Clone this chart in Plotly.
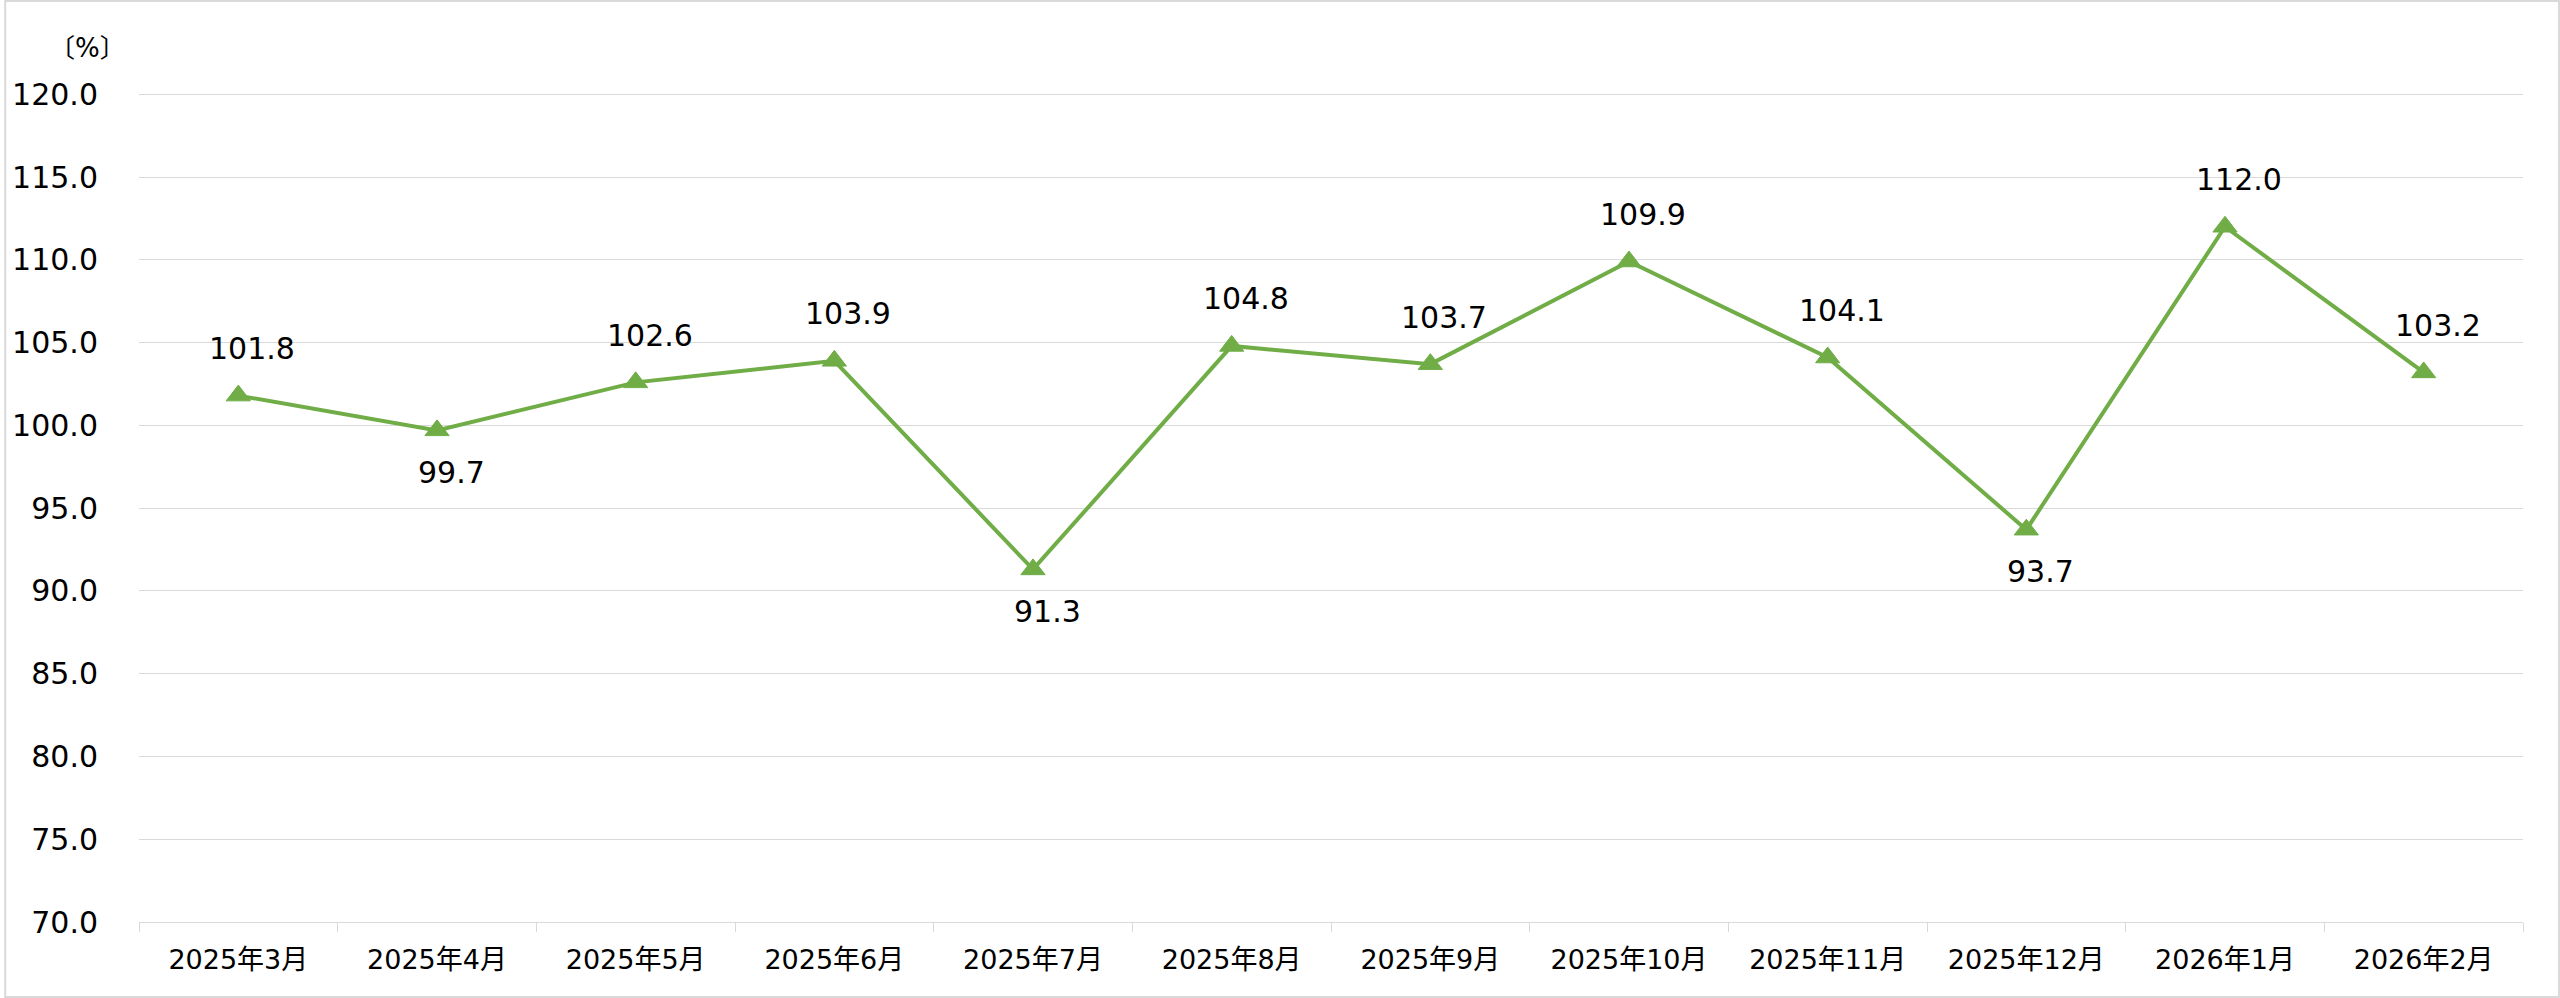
import plotly.graph_objects as go

categories = ["2025年3月", "2025年4月", "2025年5月", "2025年6月", "2025年7月", "2025年8月",
              "2025年9月", "2025年10月", "2025年11月", "2025年12月", "2026年1月", "2026年2月"]
values = [101.8, 99.7, 102.6, 103.9, 91.3, 104.8, 103.7, 109.9, 104.1, 93.7, 112.0, 103.2]
label_below = [False, True, False, False, True, False, False, False, False, True, False, False]
y_ticks = [70, 75, 80, 85, 90, 95, 100, 105, 110, 115, 120]
unit_label = "〔%〕"

FONT = "DejaVu Sans, Verdana, Noto Sans CJK JP, sans-serif"
GREEN = "#70AD47"
GRID = "#D9D9D9"

W, H = 2560, 998
L, R, T, B = 135, 37, 93, 76
PW, PH = W - L - R, H - T - B

fig = go.Figure()
fig.add_trace(go.Scatter(
    x=categories, y=values, mode="lines+markers",
    line=dict(color=GREEN, width=4),
    marker=dict(symbol="triangle-up", size=21, color=GREEN, line=dict(color=GREEN, width=1)),
    hoverinfo="x+y", showlegend=False,
))

annotations = []
for c, v, below in zip(categories, values, label_below):
    annotations.append(dict(
        x=c, y=v, xref="x", yref="y", text=f"{v:.1f}", showarrow=False,
        xshift=14, yshift=-42 if below else 47,
        font=dict(family=FONT, size=30, color="#000000"),
    ))
annotations.append(dict(
    x=(83 - L) / PW, y=(H - B - 48) / PH, xref="paper", yref="paper",
    xanchor="center", yanchor="middle",
    text=unit_label, showarrow=False,
    font=dict(family=FONT, size=26, color="#000000"),
))

fig.update_layout(
    width=W, height=H,
    margin=dict(l=L, r=R, t=T, b=B, pad=0),
    paper_bgcolor="white", plot_bgcolor="white",
    font=dict(family=FONT, color="#000000"),
    annotations=annotations,
    shapes=[dict(
        type="rect", xref="paper", yref="paper",
        x0=(1 - L) / PW, x1=(W - 1 - L) / PW,
        y0=(H - B - (H - 1)) / PH, y1=(H - B - 1) / PH,
        line=dict(color=GRID, width=2), fillcolor="rgba(0,0,0,0)", layer="below",
    )],
    xaxis=dict(
        type="category", tickson="boundaries", ticks="outside", ticklen=9,
        tickcolor=GRID, tickwidth=1, showline=True, linecolor=GRID, linewidth=1,
        showgrid=False, tickfont=dict(family=FONT, size=27, color="#000000"),
        ticklabelstandoff=14, range=[-0.5, len(categories) - 0.5],
    ),
    yaxis=dict(
        range=[70, 120.08], tickvals=y_ticks, ticktext=[f"{t:.1f}" for t in y_ticks],
        showgrid=True, gridcolor=GRID, gridwidth=1, zeroline=False, showline=False,
        tickfont=dict(family=FONT, size=30, color="#000000"), ticklabelstandoff=40,
    ),
)

fig.write_html("out.html", config={"displayModeBar": False},
               post_script="document.body.style.margin='0';document.body.style.overflow='hidden';")
